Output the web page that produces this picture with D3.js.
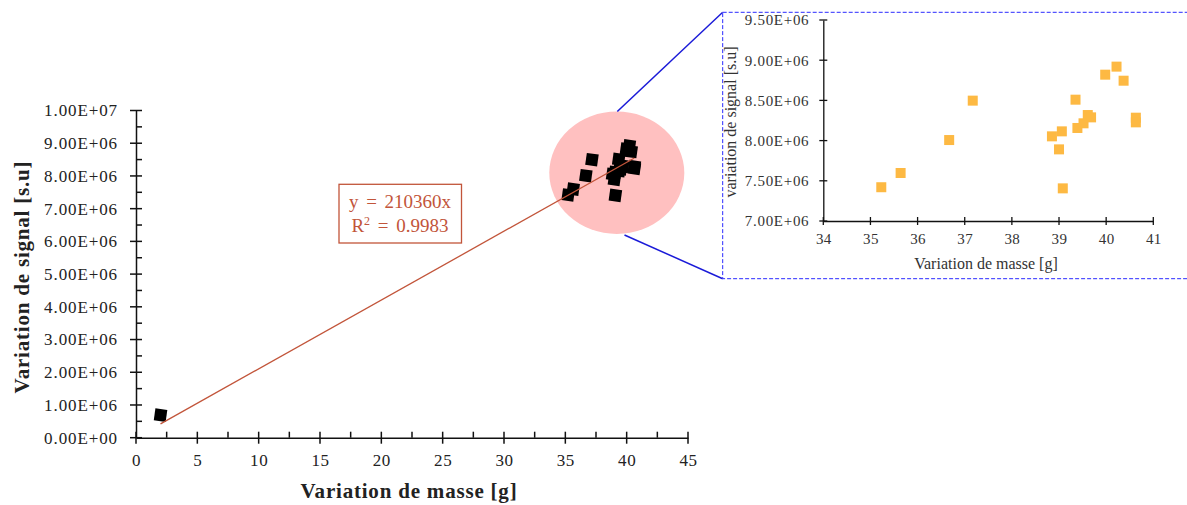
<!DOCTYPE html>
<html><head><meta charset="utf-8">
<script src="https://cdn.jsdelivr.net/npm/d3@7"></script>
<style>
html,body{margin:0;padding:0;background:#fff;}
svg{display:block;font-family:"Liberation Serif","Times New Roman",serif;}
</style></head>
<body>
<svg id="c" width="1187" height="505"></svg>
<script>
// ---- data ----
const massX = [2.0, 35.23, 35.64, 36.67, 37.17, 38.85, 39.0, 39.06, 39.08, 39.35, 39.39, 39.52, 39.61, 39.68, 39.98, 40.22, 40.37, 40.63, 40.63];
const signalY = [690000, 7420000, 7597000, 8007000, 8497000, 8053000, 7891000, 8115000, 7406000, 8509000, 8157000, 8215000, 8318000, 8289000, 8820000, 8920000, 8745000, 8285000, 8227000];
const slope = 210360;
const r2Label = "0.9983";
const mainXTicks = [0, 5, 10, 15, 20, 25, 30, 35, 40, 45];
const mainYTicks = [0, 1e6, 2e6, 3e6, 4e6, 5e6, 6e6, 7e6, 8e6, 9e6, 1e7];
const insetXTicks = [34, 35, 36, 37, 38, 39, 40, 41];
const insetYTicks = [7.0e6, 7.5e6, 8.0e6, 8.5e6, 9.0e6, 9.5e6];
const mainXTitle = "Variation de masse [g]";
const mainYTitle = "Variation de signal [s.u]";
const insetXTitle = "Variation de masse [g]";
const insetYTitle = "variation de signal [s.u]";

const fmtE = v => {
  const e = v === 0 ? 0 : Math.floor(Math.log10(v) + 1e-9);
  const m = v / Math.pow(10, e);
  return m.toFixed(2) + "E+" + String(e).padStart(2, "0");
};

const svg = d3.select("#c");
const ink = "#111";
const red = "#c2553a";
const blue = "#1a1ad8";

// ---- main chart ----
const x = d3.scaleLinear().domain([0, 45]).range([136, 688]);
const y = d3.scaleLinear().domain([0, 1e7]).range([437.7, 110.5]);

const g = svg.append("g");

// callout ellipse behind
g.append("ellipse").attr("cx", 616.8).attr("cy", 172.8).attr("rx", 67.5).attr("ry", 61.2).attr("fill", "#ffc0c0");

// connector lines
g.append("line").attr("x1", 617.3).attr("y1", 111.5).attr("x2", 722.7).attr("y2", 12.3).attr("stroke", blue).attr("stroke-width", 1.5);
g.append("line").attr("x1", 624.5).attr("y1", 235).attr("x2", 722.7).attr("y2", 278.7).attr("stroke", blue).attr("stroke-width", 1.5);

// axes
const xAxis = d3.axisBottom(x).tickValues(mainXTicks).tickSize(0).tickPadding(16).tickFormat(d3.format("d"));
const gx = g.append("g").attr("transform", `translate(0,${y(0)})`).call(xAxis);
gx.select(".domain").attr("stroke", ink).attr("stroke-width", 1.5);
gx.selectAll("text").attr("font-size", 17).attr("fill", "#222").attr("font-family", "Liberation Serif").attr("letter-spacing", 0.6);
g.selectAll(".xmaj").data(mainXTicks).join("line")
  .attr("x1", d => x(d)).attr("x2", d => x(d)).attr("y1", y(0) - 6).attr("y2", y(0) + 6)
  .attr("stroke", ink).attr("stroke-width", 1.5);
g.selectAll(".xmin").data(d3.range(2.5, 45, 5)).join("line")
  .attr("x1", d => x(d)).attr("x2", d => x(d)).attr("y1", y(0) - 6).attr("y2", y(0))
  .attr("stroke", ink).attr("stroke-width", 1.5);

const yAxis = d3.axisLeft(y).tickValues(mainYTicks).tickSize(0).tickPadding(18).tickFormat(fmtE);
const gy = g.append("g").attr("transform", `translate(${x(0)},0)`).call(yAxis);
gy.select(".domain").attr("stroke", ink).attr("stroke-width", 1.5);
gy.selectAll("text").attr("font-size", 17).attr("fill", "#222").attr("font-family", "Liberation Serif").attr("letter-spacing", 0.9);
g.selectAll(".ymaj").data(mainYTicks).join("line")
  .attr("x1", x(0) - 6).attr("x2", x(0) + 6).attr("y1", d => y(d)).attr("y2", d => y(d))
  .attr("stroke", ink).attr("stroke-width", 1.5);
g.selectAll(".ymin").data(d3.range(0.5e6, 1e7, 1e6)).join("line")
  .attr("x1", x(0)).attr("x2", x(0) + 6).attr("y1", d => y(d)).attr("y2", d => y(d))
  .attr("stroke", ink).attr("stroke-width", 1.5);

// titles
g.append("text").attr("x", 409).attr("y", 498).attr("text-anchor", "middle")
  .attr("font-size", 21).attr("font-weight", "bold").attr("letter-spacing", 0.8).attr("fill", "#222").text(mainXTitle);
g.append("text").attr("transform", `translate(29,277) rotate(-90)`).attr("text-anchor", "middle")
  .attr("font-size", 21).attr("font-weight", "bold").attr("letter-spacing", 0.8).attr("fill", "#222").text(mainYTitle);

// points
const pts = massX.map((m, i) => ({m, s: signalY[i]}));
g.selectAll(".pt").data(pts).join("rect")
  .attr("x", -6).attr("y", -6).attr("width", 12).attr("height", 12)
  .attr("fill", "#000")
  .attr("transform", d => `translate(${x(d.m)},${y(d.s)}) rotate(8)`);

// trendline
const xmin = d3.min(massX), xmax = d3.max(massX);
g.append("line").attr("x1", x(xmin)).attr("y1", y(slope * xmin)).attr("x2", x(xmax)).attr("y2", y(slope * xmax))
  .attr("stroke", red).attr("stroke-width", 1.3);

// annotation box
g.append("rect").attr("x", 339).attr("y", 184.3).attr("width", 122.5).attr("height", 58.7)
  .attr("fill", "#fff").attr("stroke", red).attr("stroke-width", 1.3);
g.append("text").attr("x", 400).attr("y", 208).attr("text-anchor", "middle").attr("font-size", 19).attr("fill", red)
  .text(`y = ${slope}x`).attr("word-spacing", 3);
const t2 = g.append("text").attr("x", 400).attr("y", 232).attr("text-anchor", "middle").attr("font-size", 19).attr("fill", red).attr("word-spacing", 3);
t2.append("tspan").text("R");
t2.append("tspan").text("2").attr("font-size", 12).attr("dy", -7);
t2.append("tspan").text(` = ${r2Label}`).attr("dy", 7);

// ---- inset ----
const ix = d3.scaleLinear().domain([34, 41]).range([823.3, 1153.3]);
const iy = d3.scaleLinear().domain([7e6, 9.5e6]).range([221, 20]);
const ig = svg.append("g");
ig.append("rect").attr("x", 722.7).attr("y", 12.3).attr("width", 480).attr("height", 266.4)
  .attr("fill", "#fff").attr("stroke", "#2b2bff").attr("stroke-width", 1).attr("stroke-dasharray", "4,2");

const ixAxis = d3.axisBottom(ix).tickValues(insetXTicks).tickSize(0).tickPadding(12).tickFormat(d3.format("d"));
const igx = ig.append("g").attr("transform", `translate(0,${iy(7e6)})`).call(ixAxis);
igx.select(".domain").attr("stroke", ink).attr("stroke-width", 1.3);
igx.selectAll("text").attr("font-size", 15).attr("fill", "#333").attr("font-family", "Liberation Serif").attr("letter-spacing", 0.4);
ig.selectAll(".ixt").data(insetXTicks).join("line")
  .attr("x1", d => ix(d)).attr("x2", d => ix(d)).attr("y1", iy(7e6) - 4).attr("y2", iy(7e6) + 4)
  .attr("stroke", ink).attr("stroke-width", 1.3);

const iyAxis = d3.axisLeft(iy).tickValues(insetYTicks).tickSize(0).tickPadding(14).tickFormat(fmtE);
const igy = ig.append("g").attr("transform", `translate(${ix(34)},0)`).call(iyAxis);
igy.select(".domain").attr("stroke", ink).attr("stroke-width", 1.3);
igy.selectAll("text").attr("font-size", 15).attr("fill", "#333").attr("font-family", "Liberation Serif").attr("letter-spacing", 0.7);
ig.selectAll(".iyt").data(insetYTicks).join("line")
  .attr("x1", ix(34) - 4).attr("x2", ix(34) + 4).attr("y1", d => iy(d)).attr("y2", d => iy(d))
  .attr("stroke", ink).attr("stroke-width", 1.3);

ig.append("text").attr("x", 986).attr("y", 269).attr("text-anchor", "middle").attr("font-size", 16).attr("fill", "#333").text(insetXTitle);
ig.append("text").attr("transform", `translate(736,122) rotate(-90)`).attr("text-anchor", "middle")
  .attr("font-size", 16).attr("fill", "#333").text(insetYTitle);

ig.selectAll(".ipt").data(pts.filter(d => d.m >= 34)).join("rect")
  .attr("x", d => ix(d.m) - 5).attr("y", d => iy(d.s) - 5).attr("width", 10).attr("height", 10)
  .attr("fill", "#fdb943");
</script>
</body></html>
